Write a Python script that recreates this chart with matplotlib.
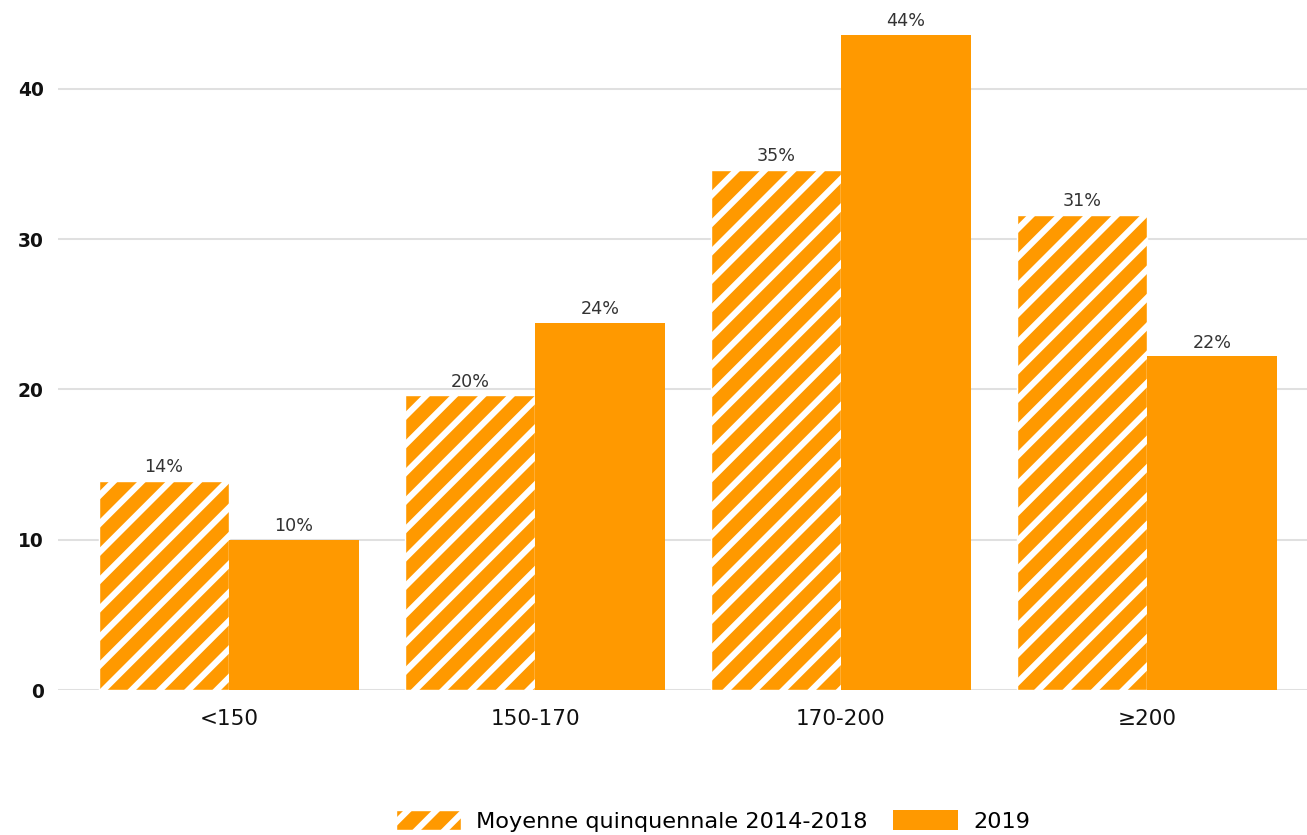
import matplotlib
matplotlib.use("Agg")
import matplotlib.pyplot as plt
import numpy as np

plt.rcParams['font.family'] = ['DejaVu Sans']
plt.rcParams['hatch.linewidth'] = 2.6

categories = ["<150", "150-170", "170-200", "≥200"]
moyenne = [13.9, 19.6, 34.6, 31.6]
moyenne_labels = ["14%", "20%", "35%", "31%"]
an2019 = [10.0, 24.4, 43.6, 22.2]
an2019_labels = ["10%", "24%", "44%", "22%"]

ORANGE = "#ff9900"
DPI = 170

fig = plt.figure(figsize=(1307 / DPI, 835 / DPI), dpi=DPI)
ax = fig.add_axes([58 / 1307, 145 / 835, 1 - 58 / 1307, 690 / 835])

x = np.arange(len(categories))
w = 0.425

b1 = ax.bar(x - w, moyenne, w, align='edge', color=ORANGE, edgecolor='white',
            hatch='//', linewidth=0.6, label='Moyenne quinquennale 2014-2018', zorder=3)
b2 = ax.bar(x, an2019, w, align='edge', color=ORANGE, linewidth=0,
            label='2019', zorder=3)

for bars, labs in [(b1, moyenne_labels), (b2, an2019_labels)]:
    for rect, lab in zip(bars, labs):
        ax.annotate(lab, (rect.get_x() + rect.get_width() / 2, rect.get_height()),
                    xytext=(0, 2), textcoords='offset points', ha='center', va='bottom',
                    fontsize=7.4, color='#333333')

ax.set_xlim(-0.559, 3.523)
ax.set_ylim(0, 45.9)
ax.set_yticks([0, 10, 20, 30, 40])
ax.set_xticks(x)
ax.set_xticklabels(categories)
ax.tick_params(axis='x', length=0, pad=8, labelsize=9.1, labelcolor='#111111')
ax.tick_params(axis='y', length=0, pad=6, labelsize=7.9, labelcolor='#111111')
for lab in ax.get_yticklabels():
    lab.set_fontweight('bold')
ax.grid(axis='y', color='#e0e0e0', linewidth=0.85, zorder=0)
for s in ax.spines.values():
    s.set_visible(False)

fig.legend(handles=[b1, b2], loc='center', bbox_to_anchor=(0.5455, 0.017), ncol=2,
           frameon=False, fontsize=9.5, handlelength=2.9, handleheight=1.0,
           handletextpad=0.7, columnspacing=1.1)

fig.savefig("out.png", dpi=DPI)
